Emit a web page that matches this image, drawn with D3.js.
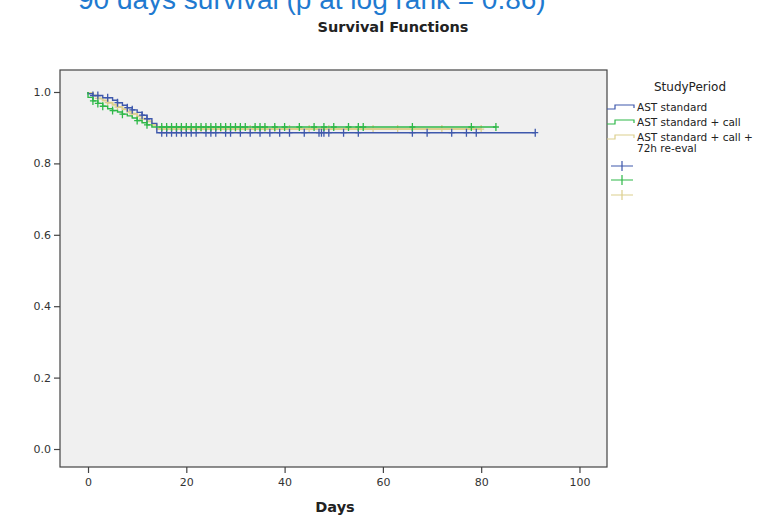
<!DOCTYPE html>
<html>
<head>
<meta charset="utf-8">
<script src="https://cdn.jsdelivr.net/npm/d3@7"></script>
<style>
  body { margin: 0; background: #fff; }
  text { font-family: "DejaVu Sans", Verdana, sans-serif; }
</style>
</head>
<body>
<div id="chart"></div>
<script>
// data
var groups = ["AST standard", "AST standard + call", "AST standard + call +\n72h re-eval"];
var colors = ["#3e58ac", "#2eb848", "#dccf8e"];

// Kaplan-Meier step points: day of drop and survival after it
var blueTimes = [0, 1, 3, 5, 6, 7, 8, 9, 10, 11, 12, 13, 14];
var blueSurv  = [0.995, 0.99, 0.984, 0.977, 0.97, 0.963, 0.956, 0.95, 0.943, 0.935, 0.925, 0.912, 0.886];
var greenTimes = [0, 1, 2, 3, 4, 5, 6, 7, 8, 9, 10, 11, 12, 13];
var greenSurv  = [0.985, 0.975, 0.968, 0.96, 0.953, 0.948, 0.944, 0.938, 0.933, 0.927, 0.92, 0.914, 0.908, 0.902];
var beigeTimes = [0, 1, 2, 3, 4, 5, 6, 7, 8, 9, 10, 11, 12, 13, 14];
var beigeSurv  = [0.997, 0.99, 0.982, 0.976, 0.97, 0.964, 0.958, 0.952, 0.945, 0.939, 0.932, 0.925, 0.918, 0.908, 0.896];

// censored observations (days)
var blueCens  = [1, 2, 4, 6, 8, 9, 11, 12, 15, 16, 17, 18, 19, 20, 21, 22, 24, 25, 26, 28, 29, 31, 33, 35, 37, 39, 41, 44, 47, 47.5, 48, 49, 52, 55, 66, 69, 74, 77, 79, 91];
var greenCens = [1, 2, 3, 5, 7, 10, 12, 15, 16, 17, 18, 19, 20, 21, 22, 23, 24, 25, 26, 27, 28, 29, 30, 31, 32, 34, 35, 36, 38, 40, 43, 46, 48, 50, 53, 55, 56, 66, 78, 83];
var beigeCens = [2, 4, 6, 9, 11, 15, 16, 17, 18, 19, 20, 21, 23, 24, 25, 27, 28, 30, 31, 33, 34, 36, 38, 41, 45, 49, 58, 63, 72, 80];

var series = [
  {times: blueTimes, surv: blueSurv, cens: blueCens, end: 91},
  {times: greenTimes, surv: greenSurv, cens: greenCens, end: 83},
  {times: beigeTimes, surv: beigeSurv, cens: beigeCens, end: 80}
];

var xTicks = [0, 20, 40, 60, 80, 100];
var yTicks = [0.0, 0.2, 0.4, 0.6, 0.8, 1.0];

var svg = d3.select("#chart")
  .append("svg")
    .attr("width", 780)
    .attr("height", 517);

// slide title, cut by the top edge like in the source
svg.append("text")
  .attr("x", 78)
  .attr("y", 9)
  .style("font-family", "'Liberation Sans', Arial, sans-serif")
  .style("font-size", "28px")
  .style("fill", "#1f7ad0")
  .text("90 days survival (p at log rank = 0.86)");

svg.append("text")
  .attr("x", 393)
  .attr("y", 32)
  .attr("text-anchor", "middle")
  .style("font-size", "14.5px")
  .style("font-weight", "bold")
  .style("fill", "#222")
  .text("Survival Functions");

var pLeft = 60, pTop = 70, pRight = 607, pBottom = 467;

var x = d3.scaleLinear().domain([-5.7, 105.6]).range([pLeft, pRight]);
var y = d3.scaleLinear().domain([-0.0504, 1.0616]).range([pBottom, pTop]);

svg.append("rect")
  .attr("x", pLeft)
  .attr("y", pTop)
  .attr("width", pRight - pLeft)
  .attr("height", pBottom - pTop)
  .style("fill", "#f0f0f0")
  .style("stroke", "#444")
  .style("stroke-width", 1.2);

// axes
var xAxis = svg.append("g")
  .attr("transform", "translate(0," + pBottom + ")")
  .call(d3.axisBottom(x).tickValues(xTicks).tickSize(6).tickPadding(5).tickFormat(d3.format("d")));
var yAxis = svg.append("g")
  .attr("transform", "translate(" + pLeft + ",0)")
  .call(d3.axisLeft(y).tickValues(yTicks).tickSize(6).tickPadding(3).tickFormat(d3.format(".1f")));
[xAxis, yAxis].forEach(function(a) {
  a.select(".domain").remove();
  a.selectAll("line").style("stroke", "#444").style("stroke-width", 1.2);
  a.selectAll("text").style("font-family", "'DejaVu Sans', Verdana, sans-serif")
    .style("font-size", "11px").style("fill", "#333");
});

svg.append("text")
  .attr("x", 335)
  .attr("y", 512)
  .attr("text-anchor", "middle")
  .style("font-size", "14.5px")
  .style("font-weight", "bold")
  .style("fill", "#222")
  .text("Days");

// survival value at a given day
function survAt(s, t) {
  var v = 1;
  for (var i = 0; i < s.times.length; i++) {
    if (s.times[i] <= t) v = s.surv[i];
  }
  return v;
}

var line = d3.line()
  .x(function(d) { return x(d[0]); })
  .y(function(d) { return y(d[1]); })
  .curve(d3.curveStepAfter);

// draw beige first so blue and green sit on top
[2, 0, 1].forEach(function(i) {
  var s = series[i];
  var pts = [[0, 1]];
  s.times.forEach(function(t, j) { pts.push([t, s.surv[j]]); });
  pts.push([s.end, s.surv[s.surv.length - 1]]);

  svg.append("path")
    .datum(pts)
    .attr("d", line)
    .style("fill", "none")
    .style("stroke", colors[i])
    .style("stroke-width", i == 2 ? 2 : 1.4);

  svg.append("g")
    .selectAll("path")
    .data(s.cens)
    .enter()
    .append("path")
      .attr("d", function(t) {
        var cx = x(t), cy = y(survAt(s, t));
        return "M" + (cx - 3) + "," + cy + "H" + (cx + 3) + "M" + cx + "," + (cy - 4) + "V" + (cy + 4);
      })
      .style("stroke", colors[i])
      .style("stroke-width", 1.3);
});

// legend
svg.append("text")
  .attr("x", 690)
  .attr("y", 91)
  .attr("text-anchor", "middle")
  .style("font-size", "12px")
  .style("fill", "#222")
  .text("StudyPeriod");

var legY = [107, 122, 137];
groups.forEach(function(g, i) {
  var ly = legY[i];
  svg.append("path")
    .attr("d", "M" + 607 + "," + (ly + 2) + "H615V" + (ly - 2) + "H634V" + (ly + 1))
    .style("fill", "none")
    .style("stroke", colors[i])
    .style("stroke-width", 1.2);
  var t = svg.append("text")
    .attr("x", 637)
    .attr("y", ly + 4)
    .style("font-size", "10.5px")
    .style("fill", "#222");
  g.split("\n").forEach(function(part, k) {
    t.append("tspan").attr("x", 637).attr("dy", k ? 10.5 : 0).text(part);
  });
});

var crossY = [166, 180, 195];
colors.forEach(function(c, i) {
  var cy = crossY[i];
  svg.append("path")
    .attr("d", "M611," + cy + "H633M622," + (cy - 5) + "V" + (cy + 5))
    .style("stroke", c)
    .style("stroke-width", 1.2);
});
</script>
</body>
</html>
